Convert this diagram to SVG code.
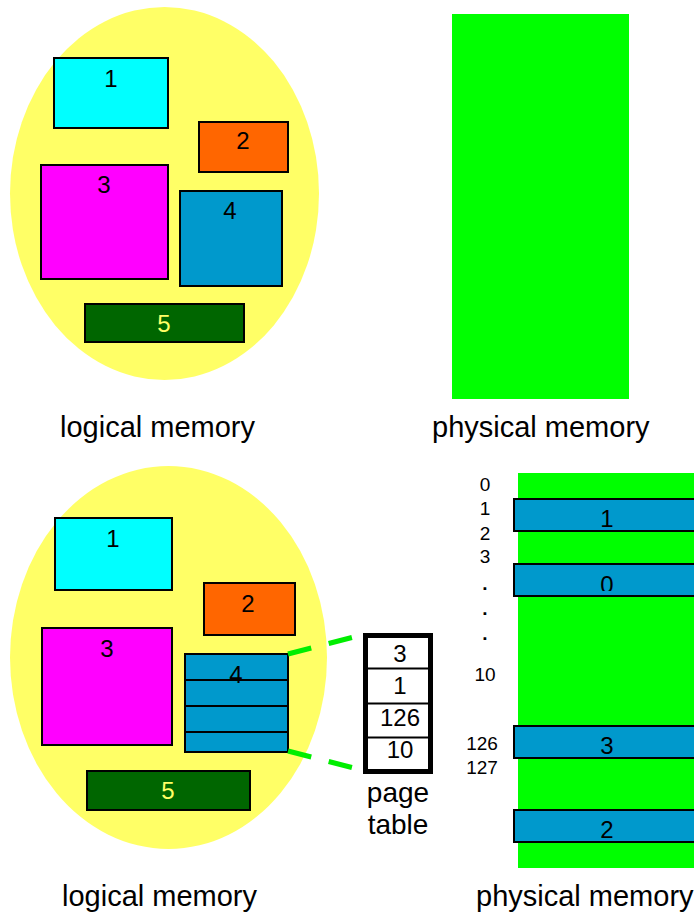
<svg xmlns="http://www.w3.org/2000/svg" width="694" height="915" viewBox="0 0 694 915">
<style>
text{font-family:"Liberation Sans",Arial,sans-serif;fill:#000}
.n{font-size:24px;text-anchor:middle}
.lbl{font-size:29px}
.idx{font-size:19px;text-anchor:middle}
.box{stroke:#000;stroke-width:2}
.ell{fill:#FFFF66}
.mem{fill:#00FF00}
.c1{fill:#00FFFF}.c2{fill:#FF6600}.c3{fill:#FF00FF}.c4{fill:#0099CC}.c5{fill:#006600}
.y{fill:#FFFF66}
.dash{stroke:#00EE00;stroke-width:5;stroke-dasharray:24 18;fill:none}
</style>
<defs>
<clipPath id="clip0"><rect x="514" y="560" width="180" height="31"/></clipPath>
</defs>
<rect width="694" height="915" fill="#fff"/>

<g id="top-logical">
<ellipse class="ell" cx="164.5" cy="193.5" rx="154.5" ry="186.5"/>
<g id="t1"><rect class="box c1" x="54" y="58" width="114" height="70"/><text class="n" x="111" y="87">1</text></g>
<g id="t2"><rect class="box c2" x="199" y="122" width="89" height="50"/><text class="n" x="243" y="149">2</text></g>
<g id="t3"><rect class="box c3" x="41" y="165" width="127" height="114"/><text class="n" x="104" y="193">3</text></g>
<g id="t4"><rect class="box c4" x="180" y="191" width="102" height="95"/><text class="n" x="230" y="219">4</text></g>
<g id="t5"><rect class="box c5" x="85" y="304" width="159" height="38"/><text class="n y" x="164" y="332">5</text></g>
</g>
<g id="top-physical"><rect class="mem" x="452" y="14" width="177" height="385"/></g>
<text class="lbl" x="60" y="437">logical memory</text>
<text class="lbl" x="432" y="437">physical memory</text>

<g id="bottom-logical">
<ellipse class="ell" cx="168.5" cy="657.5" rx="158.5" ry="191.5"/>
<g id="b1"><rect class="box c1" x="55" y="518" width="117" height="72"/><text class="n" x="113" y="547">1</text></g>
<g id="b2"><rect class="box c2" x="204" y="583" width="91" height="52"/><text class="n" x="248" y="612">2</text></g>
<g id="b3"><rect class="box c3" x="42" y="628" width="130" height="117"/><text class="n" x="107" y="657">3</text></g>
<g id="b4">
<rect class="box c4" x="185" y="654" width="103" height="26"/>
<rect class="box c4" x="185" y="680" width="103" height="26"/>
<rect class="box c4" x="185" y="706" width="103" height="26"/>
<rect class="box c4" x="185" y="732" width="103" height="20"/>
<text class="n" x="236" y="683">4</text>
</g>
<g id="b5"><rect class="box c5" x="87" y="771" width="163" height="39"/><text class="n y" x="168" y="799">5</text></g>
</g>

<g id="connectors">
<line class="dash" x1="288" y1="654" x2="354" y2="637"/>
<line class="dash" x1="288" y1="751" x2="354" y2="768"/>
</g>

<g id="page-table">
<rect x="365.5" y="635.5" width="65" height="136" fill="#fff" stroke="#000" stroke-width="5"/>
<line x1="366" y1="668.5" x2="430" y2="668.5" stroke="#000" stroke-width="2"/>
<line x1="366" y1="703.5" x2="430" y2="703.5" stroke="#000" stroke-width="2"/>
<line x1="366" y1="737.5" x2="430" y2="737.5" stroke="#000" stroke-width="2"/>
<text class="n" x="400" y="662">3</text>
<text class="n" x="400" y="694">1</text>
<text class="n" x="400" y="726">126</text>
<text class="n" x="400" y="758">10</text>
<text style="font-size:28px;text-anchor:middle" x="398" y="802">page</text>
<text style="font-size:28px;text-anchor:middle" x="398" y="834">table</text>
</g>

<g id="bottom-physical">
<rect class="mem" x="518" y="473" width="176" height="395"/>
<g id="f1"><rect class="box c4" x="514" y="499" width="190" height="32"/><text class="n" x="607" y="527">1</text></g>
<g id="f0"><rect class="box c4" x="514" y="564" width="190" height="32"/><text class="n" x="607" y="593" clip-path="url(#clip0)">0</text></g>
<g id="f3"><rect class="box c4" x="514" y="726" width="190" height="32"/><text class="n" x="607" y="754">3</text></g>
<g id="f2"><rect class="box c4" x="514" y="810" width="190" height="32"/><text class="n" x="607" y="838">2</text></g>
</g>
<g id="frame-index">
<text class="idx" x="485" y="491">0</text>
<text class="idx" x="485" y="515">1</text>
<text class="idx" x="485" y="540">2</text>
<text class="idx" x="485" y="563">3</text>
<text class="idx" style="font-weight:bold" x="485" y="590">.</text>
<text class="idx" style="font-weight:bold" x="485" y="615">.</text>
<text class="idx" style="font-weight:bold" x="485" y="640">.</text>
<text class="idx" x="485" y="681">10</text>
<text class="idx" x="482" y="750">126</text>
<text class="idx" x="482" y="774">127</text>
</g>
<text class="lbl" x="62" y="906">logical memory</text>
<text class="lbl" x="476" y="906">physical memory</text>
</svg>
